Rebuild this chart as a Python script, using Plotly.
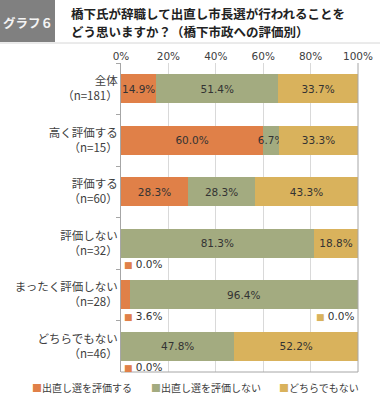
import plotly.graph_objects as go

categories = ["全体<br>（n=181）", "高く評価する<br>（n=15）", "評価する<br>（n=60）",
              "評価しない<br>（n=32）", "まったく評価しない<br>（n=28）", "どちらでもない<br>（n=46）"]
series_names = ["出直し選を評価する", "出直し選を評価しない", "どちらでもない"]
hyoka_suru = [14.9, 60.0, 28.3, 0.0, 3.6, 0.0]
hyoka_shinai = [51.4, 6.7, 28.3, 81.3, 96.4, 47.8]
dochira = [33.7, 33.3, 43.3, 18.8, 0.0, 52.2]
x_ticks = [0, 20, 40, 60, 80, 100]
x_tick_labels = ["0%", "20%", "40%", "60%", "80%", "100%"]

colors = ["#E08048", "#A3AB80", "#D9B25C"]
series_values = [hyoka_suru, hyoka_shinai, dochira]
legend_ids = ["legend", "legend2", "legend3"]
legend_x_px = [-8, 111, 239]

FONT = "DejaVu Sans, Noto Sans CJK JP, sans-serif"
JP = "Noto Sans CJK JP, sans-serif"
TXT = "#404040"

fig = go.Figure()
for name, vals, col, lg in zip(series_names, series_values, colors, legend_ids):
    fig.add_trace(go.Bar(
        y=categories, x=vals, orientation="h", name=name,
        marker=dict(color=col, line=dict(width=0)),
        text=[f"{v:.1f}%" if v >= 5 else "" for v in vals],
        textposition="inside", insidetextanchor="middle", textangle=0,
        constraintext="none",
        textfont=dict(family=FONT, size=10.5, color="#333333"),
        showlegend=False, width=0.56,
    ))
    # legend entry: colored square key drawn as part of the legend text
    fig.add_trace(go.Scatter(
        x=[None], y=[None], mode="markers",
        name=f'<span style="color:{col}">■</span>{name}',
        marker=dict(symbol="square", size=1, color="rgba(0,0,0,0)"),
        showlegend=True, legend=lg,
    ))

annotations = []
# labels for small segments placed below the bars
for i, cat in enumerate(categories):
    v = hyoka_suru[i]
    if v < 5:
        annotations.append(dict(
            x=0, y=cat, xref="x", yref="y", xanchor="left", yanchor="middle",
            xshift=1, yshift=-21, showarrow=False,
            text=f'<span style="color:{colors[0]};font-size:9px">■</span> {v:.1f}%',
            font=dict(family=FONT, size=10.5, color="#333333")))
    v = dochira[i]
    if v < 5:
        annotations.append(dict(
            x=100, y=cat, xref="x", yref="y", xanchor="right", yanchor="middle",
            xshift=-1, yshift=-21, showarrow=False,
            text=f'<span style="color:{colors[2]};font-size:9px">■</span> {v:.1f}%',
            font=dict(family=FONT, size=10.5, color="#333333")))

annotations.append(dict(
    x=27.5 / 380, y=1 - 22 / 400, xref="paper", yref="paper", showarrow=False,
    xanchor="center", yanchor="middle", text="<b>グラフ６</b>",
    font=dict(family=JP, size=12.5, color="#F4F4F4")))
title_lines = ["橋下氏が辞職して出直し市長選が行われることを",
               "どう思いますか？（橋下市政への評価別）"]
for line, ypx in zip(title_lines, [13.5, 31.5]):
    annotations.append(dict(
        x=69 / 380, y=1 - ypx / 400, xref="paper", yref="paper", showarrow=False,
        xanchor="left", yanchor="middle", align="left",
        text=f"<b>{line}</b>",
        font=dict(family=JP, size=12.5, color="#222222")))

shapes = [
    dict(type="rect", xref="paper", yref="paper", x0=0, x1=55 / 380,
         y0=1 - 42 / 400, y1=1, fillcolor="#808080", line=dict(width=0), layer="below"),
    dict(type="line", xref="paper", yref="paper", x0=0, x1=1,
         y0=1 - 43 / 400, y1=1 - 43 / 400, line=dict(color="#D6D6D6", width=1)),
    dict(type="line", xref="x domain", yref="y domain", x0=1, x1=1, y0=0, y1=1,
         line=dict(color="#A6A6A6", width=1)),
    dict(type="line", xref="x domain", yref="y domain", x0=0, x1=1, y0=0, y1=0,
         line=dict(color="#A6A6A6", width=1)),
]

legend_common = dict(orientation="h", xanchor="left", yanchor="middle",
                     y=1 - 388 / 400, font=dict(family=JP, size=10, color=TXT),
                     bgcolor="rgba(0,0,0,0)", itemwidth=30, borderwidth=0)

fig.update_layout(
    width=380, height=400, barmode="stack",
    margin=dict(l=0, r=0, t=0, b=0, autoexpand=False),
    paper_bgcolor="white", plot_bgcolor="white",
    font=dict(family=FONT, color=TXT),
    xaxis=dict(domain=[121 / 380, 358 / 380], range=[0, 100], side="top",
               tickvals=x_ticks, ticktext=x_tick_labels,
               showgrid=True, gridcolor="#D9D9D9", gridwidth=1,
               zeroline=False, showline=False, ticks="",
               tickfont=dict(family=FONT, size=10.5, color=TXT), fixedrange=True),
    yaxis=dict(domain=[1 - 372 / 400, 1 - 63 / 400], autorange="reversed",
               type="category", showgrid=False, showline=True, linecolor="#A6A6A6",
               ticks="outside", tickson="boundaries", ticklen=4, tickcolor="#A6A6A6",
               tickfont=dict(family=JP, size=11.5, color=TXT), fixedrange=True),
    annotations=annotations, shapes=shapes,
)
for lg, xpx in zip(legend_ids, legend_x_px):
    fig.update_layout({lg: dict(legend_common, x=xpx / 380)})

fig.write_html("out.html",
               config={"displayModeBar": False},
               post_script="document.body.style.margin='0';document.body.style.overflow='hidden';")
